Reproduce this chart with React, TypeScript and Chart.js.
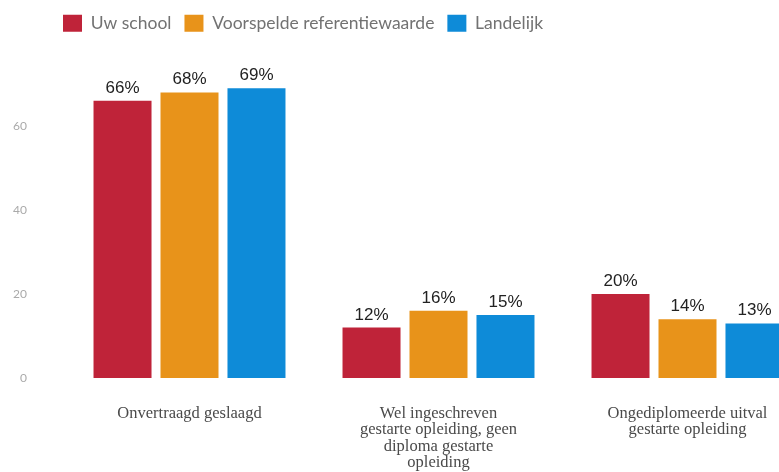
import React, { useEffect, useRef } from 'react';
import { Chart, registerables } from 'chart.js';

Chart.register(...registerables);

const categories: string[][] = [
  ['Onvertraagd geslaagd'],
  ['Wel ingeschreven', 'gestarte opleiding, geen', 'diploma gestarte', 'opleiding'],
  ['Ongediplomeerde uitval', 'gestarte opleiding'],
];
const seriesNames = ['Uw school', 'Voorspelde referentiewaarde', 'Landelijk'];
const uwSchool = [66, 12, 20];
const voorspeld = [68, 16, 14];
const landelijk = [69, 15, 13];
const yTicks = [0, 20, 40, 60];
const yMax = 80;
const colors = ['#bf2339', '#e8931a', '#0e8bd8'];

const legendOffset = {
  id: 'legendOffset',
  afterLayout(chart: any) {
    const lg = chart.legend;
    if (lg) {
      lg.left += 50;
      lg.right += 50;
    }
  },
};

const valueLabels = {
  id: 'valueLabels',
  afterDatasetsDraw(chart: any) {
    const { ctx } = chart;
    ctx.save();
    ctx.font = '17px "Liberation Sans", Arial, sans-serif';
    ctx.fillStyle = '#222222';
    ctx.textAlign = 'center';
    ctx.textBaseline = 'alphabetic';
    chart.data.datasets.forEach((ds: any, i: number) => {
      const meta = chart.getDatasetMeta(i);
      meta.data.forEach((bar: any, j: number) => {
        ctx.fillText(`${ds.data[j]}%`, bar.x, bar.y - 8);
      });
    });
    ctx.restore();
  },
};

export default function App() {
  const canvasRef = useRef<HTMLCanvasElement | null>(null);

  useEffect(() => {
    if (!canvasRef.current) return;
    const seriesData = [uwSchool, voorspeld, landelijk];
    const chart = new Chart(canvasRef.current, {
      type: 'bar',
      data: {
        labels: categories,
        datasets: seriesNames.map((name, i) => ({
          label: name,
          data: seriesData[i],
          backgroundColor: colors[i],
          borderWidth: 0,
          barPercentage: 0.866,
          categoryPercentage: 0.807,
        })),
      },
      options: {
        responsive: false,
        animation: false,
        devicePixelRatio: 1,
        layout: { padding: { top: 1.5, left: 0, right: 0, bottom: 0 } },
        plugins: {
          legend: {
            position: 'top',
            align: 'start',
            labels: {
              boxWidth: 19,
              boxHeight: 17,
              padding: 13,
              color: '#727272',
              font: { family: 'Lato', size: 17.5, lineHeight: 1 },
            },
          },
          tooltip: { enabled: false },
        },
        scales: {
          x: {
            grid: { display: false, drawTicks: false },
            border: { display: false },
            ticks: {
              color: '#4a4a4a',
              font: { family: '"Liberation Serif"', size: 16.5, lineHeight: 1 },
              padding: 27,
              maxRotation: 0,
              autoSkip: false,
            },
            afterFit: (s: any) => {
              s.height = 94;
            },
          },
          y: {
            min: 0,
            max: yMax,
            grid: { display: false, drawTicks: false },
            border: { display: false },
            ticks: {
              color: '#aaaaaa',
              font: { family: 'Lato', size: 12 },
              padding: 38,
            },
            afterBuildTicks: (s: any) => {
              s.ticks = yTicks.map((v) => ({ value: v }));
            },
            afterFit: (s: any) => {
              s.width = 65;
              s.paddingTop = 0;
              s.paddingBottom = 0;
            },
          },
        },
      } as any,
      plugins: [legendOffset, valueLabels],
    });
    return () => chart.destroy();
  }, []);

  return (
    <div
      style={{
        position: 'absolute',
        left: 0,
        top: 0,
        width: 779,
        height: 472,
        overflow: 'hidden',
        background: '#ffffff',
      }}
    >
      <canvas ref={canvasRef} width={812} height={472} style={{ width: 812, height: 472, display: 'block' }} />
    </div>
  );
}
